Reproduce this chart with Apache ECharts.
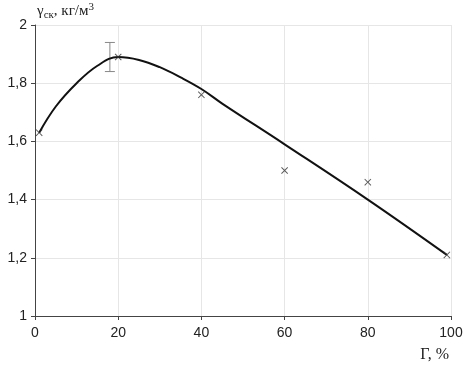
<!DOCTYPE html>
<html>
<head>
<meta charset="utf-8">
<script src="https://cdn.jsdelivr.net/npm/echarts@6/dist/echarts.min.js"></script>
<style>
  html, body { margin: 0; padding: 0; background: #fff; }
</style>
</head>
<body>
<div id="my-chart" style="width: 469px; height: 370px;"></div>
<script>
// measured points (crosses)
const pointX = [1, 20, 40, 60, 80, 99];
const pointY = [1.63, 1.89, 1.76, 1.50, 1.46, 1.21];
// fitted curve
const curveX = [1, 5, 10, 15, 20, 25, 30, 35, 40, 45, 60, 80, 99];
const curveY = [1.63, 1.72, 1.80, 1.86, 1.89, 1.88, 1.855, 1.82, 1.78, 1.73, 1.59, 1.40, 1.21];
// error bar: x, low, high
const errBar = [[18, 1.84, 1.94]];

const myChart = echarts.init(document.getElementById("my-chart"));
const crossPath = "path://M0,1L1,0L5,4L9,0L10,1L6,5L10,9L9,10L5,6L1,10L0,9L4,5Z";

const option = {
  animation: false,
  grid: { left: 35, right: 18, top: 25, bottom: 54 },
  xAxis: {
    type: "value",
    min: 0,
    max: 100,
    interval: 20,
    name: "Г, %",
    nameLocation: "end",
    nameGap: 0,
    nameTextStyle: {
      fontFamily: "Liberation Serif",
      fontSize: 16,
      color: "#222",
      align: "right",
      verticalAlign: "top",
      padding: [31, 2, 0, 0],
    },
    axisLine: { lineStyle: { color: "#444", width: 1 } },
    axisTick: { show: true, length: 4, lineStyle: { color: "#444" } },
    axisLabel: { fontFamily: "Liberation Sans", fontSize: 14, color: "#222", margin: 10 },
    splitLine: { show: true, lineStyle: { color: "#e6e6e6" } },
  },
  yAxis: {
    type: "value",
    min: 1,
    max: 2,
    interval: 0.2,
    name: "{g|γ}{s|ск}{g|, кг/м}{p|3}",
    nameLocation: "end",
    nameGap: 4,
    nameTextStyle: {
      align: "left",
      padding: [0, 0, 0, 2],
      rich: {
        g: { fontFamily: "Liberation Serif", fontSize: 15, color: "#222" },
        s: { fontFamily: "Liberation Serif", fontSize: 11, color: "#222", verticalAlign: "bottom", padding: [6, 0, 0, 0] },
        p: { fontFamily: "Liberation Serif", fontSize: 11, color: "#222", verticalAlign: "top", padding: [0, 0, 8, 0] },
      },
    },
    axisLine: { show: true, lineStyle: { color: "#444", width: 1 } },
    axisTick: { show: true, length: 4, lineStyle: { color: "#444" } },
    axisLabel: {
      fontFamily: "Liberation Sans",
      fontSize: 14,
      color: "#222",
      margin: 8,
      formatter: (v) => String(+v.toFixed(1)).replace(".", ","),
    },
    splitLine: { show: true, lineStyle: { color: "#e6e6e6" } },
  },
  series: [
    {
      type: "line",
      smooth: 0.4,
      symbol: "none",
      data: curveX.map((x, i) => [x, curveY[i]]),
      lineStyle: { color: "#111", width: 2 },
      z: 3,
    },
    {
      type: "scatter",
      symbol: crossPath,
      symbolSize: 7,
      data: pointX.map((x, i) => [x, pointY[i]]),
      itemStyle: { color: "#333" },
      z: 4,
    },
    {
      type: "custom",
      data: errBar,
      renderItem: (params, api) => {
        const top = api.coord([api.value(0), api.value(2)]);
        const bot = api.coord([api.value(0), api.value(1)]);
        const w = 5;
        const st = { stroke: "#888", lineWidth: 1 };
        return {
          type: "group",
          children: [
            { type: "line", shape: { x1: top[0], y1: top[1], x2: bot[0], y2: bot[1] }, style: st },
            { type: "line", shape: { x1: top[0] - w, y1: top[1], x2: top[0] + w, y2: top[1] }, style: st },
            { type: "line", shape: { x1: bot[0] - w, y1: bot[1], x2: bot[0] + w, y2: bot[1] }, style: st },
          ],
        };
      },
      z: 2,
    },
  ],
};
myChart.setOption(option);
</script>
</body>
</html>
